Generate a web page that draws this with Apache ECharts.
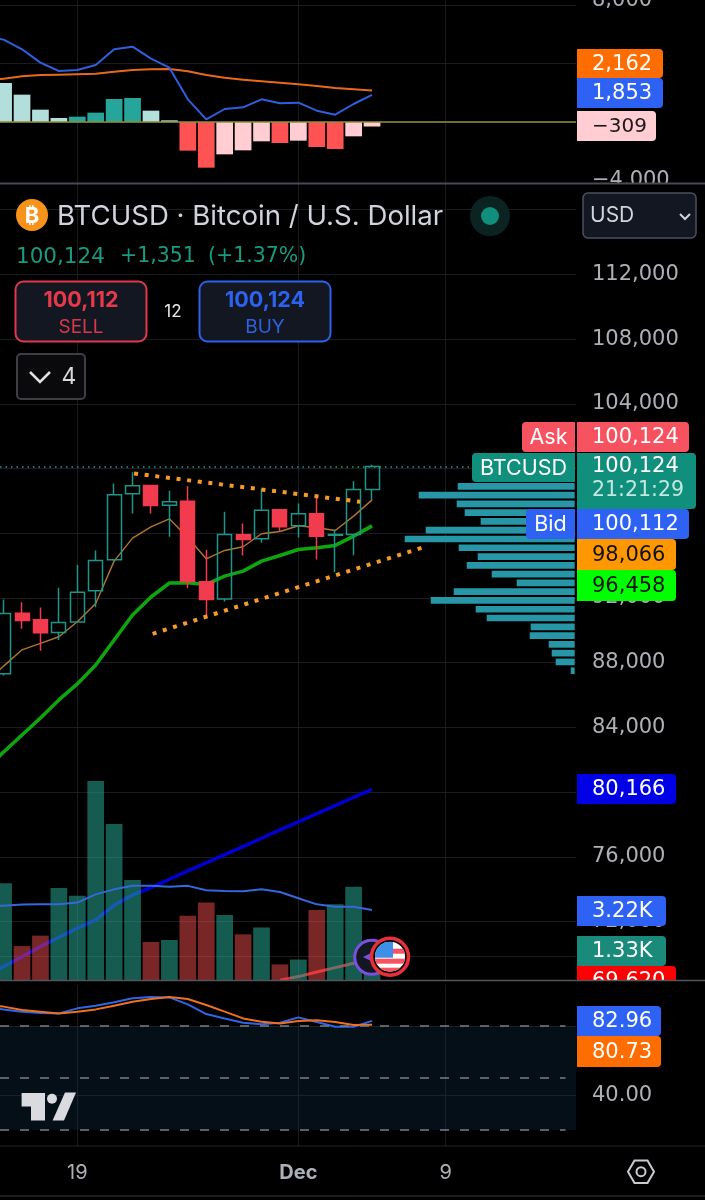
<!DOCTYPE html>
<html>
<head>
<meta charset="utf-8">
<title>BTCUSD</title>
<script src="https://cdn.jsdelivr.net/npm/echarts@6/dist/echarts.min.js"></script>
<style>
  html, body { margin: 0; padding: 0; background: #000; }
  #main { width: 705px; height: 1200px; }
</style>
</head>
<body>
<div id="main"></div>
<script>
// day index on the x axis: 0 is the last day off screen on the left
var tickDays = [5, 17, 25];
var tickLabels = ['19', 'Dec', '9'];

// open, close, low, high - from day 1
var candles = [
  [87316, 91045, 87213, 91910], [91065, 90612, 90097, 91745], [90653, 89850, 88738, 91416],
  [89871, 90489, 89397, 92631], [90509, 92363, 90468, 94032], [92446, 94320, 91436, 94938],
  [94361, 98378, 94279, 99079], [98440, 98935, 97225, 99779], [98955, 97719, 97225, 98955],
  [97740, 97946, 95783, 98626], [97987, 93022, 92610, 98914], [93002, 91910, 90818, 94979],
  [91931, 95927, 91786, 97328], [95906, 95618, 94629, 96607], [95659, 97431, 95412, 98749],
  [97451, 96401, 96133, 97451], [96463, 97204, 95742, 97843], [97204, 95824, 94382, 98296],
  [95886, 95927, 93599, 96236], [95927, 98708, 94650, 99223], [98708, 100124, 98049, 100232]
];
var lastPrice = 100124;

// moving averages, from day 0
var emaFast = [86700, 87790, 88799, 89191, 89603, 90530, 91663, 94279, 95700, 96401, 96895, 95721,
  94423, 94938, 95165, 95968, 96112, 96463, 96339, 96174, 97060, 98066];
var emaMid = [81372, 82484, 83535, 84586, 85698, 86687, 87861, 89406, 90951, 92063, 92928, 92940,
  92837, 93352, 93661, 94279, 94629, 95000, 95103, 95247, 95824, 96458];
var emaSlow = [68600, 69218, 69836, 70454, 71031, 71587, 72102, 73008, 73647, 74100, 74615, 75130,
  75625, 76140, 76634, 77149, 77664, 78158, 78673, 79168, 79683, 80166];
// from day 16
var emaLong = [68380, 68600, 68888, 69156, 69424, 69620];

var trendTopX = [8.08, 20.35];
var trendTop = [99697, 97946];
var trendLowX = [9.09, 23.82];
var trendLow = [89788, 95153];

// volume in K, from day 1
var volumes = [4.45, 1.56, 2.04, 4.23, 3.88, 9.15, 7.18, 4.6, 1.75, 1.84, 2.96, 3.56, 2.99, 2.1, 2.42,
  0.72, 0.94, 3.22, 3.48, 4.29, 1.33];
// from day 0
var volumeMa = [3.4, 3.42, 3.47, 3.48, 3.48, 3.56, 3.94, 4.17, 4.34, 4.33, 4.29, 4.33, 4.13, 4.09, 4.08,
  4.17, 4.05, 3.76, 3.48, 3.37, 3.37, 3.22];

// macd, from day 0
var macdLine = [5860, 5632, 4970, 4058, 3488, 3557, 3899, 4970, 5153, 4332, 3716, 1550, 182, 889, 1003,
  1550, 1277, 1322, 775, 502, 1231, 1853];
var signalLine = [2804, 2964, 3124, 3215, 3238, 3260, 3306, 3443, 3557, 3602, 3625, 3466, 3215, 3032,
  2896, 2782, 2690, 2576, 2462, 2326, 2234, 2162];
// from day 1
var macdHist = [2668, 1870, 844, 274, 365, 638, 1573, 1642, 775, 114, -1961, -3124, -2212, -1938, -1322,
  -1436, -1277, -1710, -1847, -980, -309];

// rsi, from day 0
var rsiLine = [90.5, 89.6, 88.3, 87.5, 87.3, 90.2, 91.7, 93.7, 96.0, 96.7, 96.5, 92.5, 86.9, 84.4, 81.9,
  81.0, 81.9, 85.0, 82.3, 79.6, 79.6, 82.96];
var rsiMa = [92.0, 91.2, 89.2, 88.3, 87.3, 88.3, 89.6, 91.7, 94.0, 95.6, 96.7, 95.6, 92.1, 88.3, 84.4,
  82.5, 81.5, 82.9, 83.3, 82.3, 80.6, 80.73];
var rsiLevels = [80, 50, 20];

// volume profile, one row per price bucket
var profileRows = [98900, 98360, 97820, 97280, 96730, 96190, 95650, 95110, 94560, 94020, 93480, 92940,
  92390, 91850, 91310, 90770, 90230, 89680, 89140, 88600, 88060, 87510];
var profileVolumes = [117, 156, 118, 110, 94, 149, 170, 116, 97, 108, 83, 58, 121, 144, 99, 88, 44, 45,
  26, 23, 19, 4];

var FONT = 'Inter, Roboto, sans-serif';
var FONT_NUM = '"DejaVu Sans", Inter, sans-serif';
var GREY = '#adb0b6';
var GRID_LINE = '#1b1c20';
var xMin = 0.8046, xMax = 32.07;

var myChart = echarts.init(document.getElementById('main'));

function pairs(values, firstDay) {
  return values.map(function (v, i) { return [i + firstDay, v]; });
}

function xAxisHidden(gridIndex) {
  return { type: 'value', gridIndex: gridIndex, min: xMin, max: xMax, show: false };
}

function yAxisHidden(gridIndex, min, max) {
  return { type: 'value', gridIndex: gridIndex, min: min, max: max, show: false };
}

function yAxisPane(gridIndex, min, max, interval, formatter, labelExtra) {
  return {
    type: 'value', gridIndex: gridIndex, position: 'right', min: min, max: max, interval: interval,
    axisLine: { show: false }, axisTick: { show: false },
    axisLabel: Object.assign({
      color: GREY, fontFamily: FONT_NUM, fontSize: 21, margin: 16, formatter: formatter,
      verticalAlignMinLabel: 'middle', verticalAlignMaxLabel: 'middle'
    }, labelExtra || {}),
    splitLine: { show: true, showMinLine: false, lineStyle: { color: GRID_LINE, width: 1 } }
  };
}

function lineSeries(name, xIdx, yIdx, data, color, width, z) {
  return {
    name: name, type: 'line', xAxisIndex: xIdx, yAxisIndex: yIdx, data: data, z: z,
    showSymbol: false, symbol: 'none', silent: true, animation: false,
    lineStyle: { color: color, width: width, join: 'round' }
  };
}

function money(v) {
  return (v < 0 ? '\u2212' : '') + Math.abs(v).toLocaleString('en-US');
}

// ---- everything that sits on top of the panes
var Z = 50;
var overlay = [];

function rect(x, y, w, h, fill, r, stroke, lw) {
  overlay.push({ type: 'rect', z: Z, silent: true, shape: { x: x, y: y, width: w, height: h, r: r || 0 },
    style: { fill: fill, stroke: stroke || null, lineWidth: lw || 0 } });
}
function text(str, x, y, size, color, align, weight, family) {
  overlay.push({ type: 'text', z: Z, silent: true, x: x, y: y,
    style: { text: str, fill: color, font: (weight || 'normal') + ' ' + size + 'px ' + (family || FONT),
      textAlign: align || 'left', verticalAlign: 'middle' } });
}
function hline(y, color, w) {
  overlay.push({ type: 'line', z: Z, silent: true, shape: { x1: 0, y1: y, x2: 705, y2: y },
    style: { stroke: color, lineWidth: w } });
}
function circle(cx, cy, r, fill, stroke, lw) {
  overlay.push({ type: 'circle', z: Z, silent: true, shape: { cx: cx, cy: cy, r: r },
    style: { fill: fill, stroke: stroke || null, lineWidth: lw || 0 } });
}
function poly(points, fill, stroke, lw, open) {
  overlay.push({ type: open ? 'polyline' : 'polygon', z: Z, silent: true, shape: { points: points },
    style: { fill: fill, stroke: stroke || null, lineWidth: lw || 0 } });
}
function badgeRight(y, h, w, fill, str, color) {
  rect(577, y, w, h, fill, [0, 4, 4, 0]);
  text(str, 592, y + h / 2 + 1, 21, color, 'left', 'normal', FONT_NUM);
}
function badgeLeft(x, y, h, fill, str) {
  rect(x, y, 575 - x, h, fill, [4, 0, 0, 4]);
  text(str, (x + 575) / 2, y + h / 2 + 1, 21.5, '#fff', 'center');
}

// top of the macd scale, cut by the edge of the picture
text('8,000', 592, 1, 21, GREY, 'left', 'normal', FONT_NUM);

// pane separators and the cut of the macd scale
rect(577, 184, 128, 8, '#000');
hline(183.5, '#4a4a52', 2);

// legend
circle(32, 215, 16, '#f7931a');
text('\u20bf', 32, 216, 22, '#fff', 'center', 'bold');
text('BTCUSD \u00b7 Bitcoin / U.S. Dollar', 57, 217, 27.6, '#d1d4dc');
circle(490, 216, 20, '#0b2422');
circle(490, 216, 9, '#0f8f7c');
text('100,124', 16, 257, 21.5, '#1b9a7f', 'left', 'normal', FONT_NUM);
text('+1,351', 120, 257, 20.5, '#1b9a7f', 'left', 'normal', FONT_NUM);
text('(+1.37%)', 208, 257, 20.5, '#1b9a7f', 'left', 'normal', FONT_NUM);

// sell / buy
rect(15.5, 281.5, 131, 60, '#131722', 8, '#e0394a', 2);
text('100,112', 81, 301, 21.5, '#e8394a', 'center', 'bold');
text('SELL', 81, 327, 19, '#d8394a', 'center');
text('12', 173, 312, 17, '#e8e8e8', 'center');
rect(199.5, 281.5, 131, 60, '#131722', 8, '#2d62e8', 2);
text('100,124', 265, 301, 21.5, '#2d62f0', 'center', 'bold');
text('BUY', 265, 327, 19, '#2d62e0', 'center');

// collapsed indicators
rect(17, 354, 68, 45, '#0a0a0c', 4, '#3e3f44', 2);
poly([[30, 372], [40, 382], [50, 372]], null, '#e0e0e0', 2.5, true);
text('4', 69, 377, 23, '#d8d8d8', 'center');

// currency button
rect(583, 193, 113, 45, '#131722', 5, '#4a5060', 1.5);
text('USD', 590, 216, 21, '#d1d4dc');
poly([[680, 214], [685, 219], [690, 214]], null, '#d1d4dc', 2, true);

// macd tags
badgeRight(49, 29, 86, '#ff6d00', '2,162', '#fff');
badgeRight(78, 30, 86, '#2d62f5', '1,853', '#fff');
rect(577, 111, 79, 30, '#ffcdd2', [0, 4, 4, 0]);
text('\u2212309', 592, 127, 20, '#1a1a1a', 'left', 'normal', FONT_NUM);

// price tags
badgeLeft(522, 422, 30, '#f7525f', 'Ask');
badgeRight(422, 30, 112, '#f7525f', '100,124', '#fff');
badgeLeft(472, 453, 29, '#0f8f7c', 'BTCUSD');
rect(577, 453, 119, 56, '#0f8f7c', [0, 4, 4, 0]);
text('100,124', 592, 467, 21, '#fff', 'left', 'normal', FONT_NUM);
text('21:21:29', 592, 491, 20.5, '#c4e8e0', 'left', 'normal', FONT_NUM);
badgeLeft(526, 509, 30, '#2d62f5', 'Bid');
badgeRight(509, 30, 112, '#2d62f5', '100,112', '#fff');
badgeRight(539, 31, 99, '#ff9800', '98,066', '#111');
badgeRight(570, 31, 99, '#00ff00', '96,458', '#111');
badgeRight(774, 30, 99, '#0000e6', '80,166', '#fff');
badgeRight(896, 30, 89, '#2d62f5', '3.22K', '#fff');
badgeRight(936, 30, 89, '#1a8a7a', '1.33K', '#fff');
badgeRight(966, 30, 99, '#ff0000', '69,620', '#fff');

// below the price pane
rect(0, 981, 705, 4, '#000');
rect(577, 981, 128, 24, '#000');
hline(980.5, '#55565c', 1.5);
badgeRight(1006, 30, 84, '#2d62f5', '82.96', '#fff');
badgeRight(1036, 31, 84, '#ff6d00', '80.73', '#fff');
hline(1146, '#26272b', 1);
hline(1196, '#3a3b40', 1);

// events on the volume pane
circle(371.7, 957.3, 17, '#131722', '#7b4fe0', 3);
poly([[363, 957], [371, 953], [371, 961]], '#7b4fe0');
circle(390, 956.7, 18.5, '#0a0a0a', '#e8303a', 3.5);
var flag = '<svg xmlns="http://www.w3.org/2000/svg" width="30" height="30" viewBox="0 0 30 30">' +
  '<clipPath id="c"><circle cx="15" cy="15" r="15"/></clipPath><g clip-path="url(#c)">' +
  '<rect width="30" height="30" fill="#fff"/>' +
  '<rect y="7" x="15" width="15" height="5" fill="#f7525f"/>' +
  '<rect y="17" width="30" height="5" fill="#f7525f"/><rect y="26" width="30" height="5" fill="#f7525f"/>' +
  '<rect width="18" height="16" fill="#3d8fe8"/></g></svg>';
overlay.push({ type: 'image', z: Z, silent: true,
  style: { image: 'data:image/svg+xml,' + encodeURIComponent(flag), x: 375, y: 941.7, width: 30, height: 30 } });

// tradingview mark
poly([[21.6, 1093], [45, 1093], [45, 1120.5], [31, 1120.5], [31, 1106.5], [21.6, 1106.5]], '#d9dbe0');
circle(52, 1098.7, 5, '#d9dbe0');
poly([[65, 1092.5], [76, 1092.5], [64, 1120.5], [52.6, 1120.5]], '#d9dbe0');

// settings
poly([[628, 1171.7], [634.5, 1160.5], [647.5, 1160.5], [654, 1171.7], [647.5, 1183], [634.5, 1183]], null, '#c8ccd2', 2);
circle(641, 1171.7, 4.5, null, '#c8ccd2', 2);

var option = {
  backgroundColor: '#000',
  animation: false,
  textStyle: { fontFamily: FONT },
  grid: [
    { left: 0, width: 576, top: 0, height: 1146 },       // time axis, vertical lines
    { left: 0, width: 576, top: 5, height: 175.5 },      // macd
    { left: 0, width: 576, top: 209.7, height: 776.6 },  // price
    { left: 0, width: 576, top: 780, height: 200 },      // volume
    { left: 0, width: 576, top: 956.7, height: 208 },    // rsi
    { left: 374.7, width: 200, top: 481.9, height: 193.2 } // volume profile
  ],
  xAxis: [
    {
      type: 'value', gridIndex: 0, min: xMin, max: xMax, position: 'bottom',
      axisLine: { show: false },
      axisTick: { show: false, customValues: tickDays },
      splitLine: { show: true, lineStyle: { color: GRID_LINE, width: 1 } },
      axisLabel: {
        customValues: tickDays, color: GREY, fontFamily: FONT, fontSize: 20, margin: 17,
        formatter: function (v) {
          var s = tickLabels[tickDays.indexOf(v)];
          return s === 'Dec' ? '{b|' + s + '}' : s;
        },
        rich: { b: { fontWeight: 'bold', fontFamily: FONT, fontSize: 20, color: GREY } }
      }
    },
    xAxisHidden(1), xAxisHidden(2), xAxisHidden(3), xAxisHidden(4),
    { type: 'value', gridIndex: 5, inverse: true, min: 0, max: 200, show: false }
  ],
  yAxis: [
    yAxisHidden(0, 0, 1),
    yAxisPane(1, -4000, 8000, 4000, function (v) { return v === 8000 ? '' : money(v); }, { padding: [0, 0, 5, 0] }),
    yAxisPane(2, 68000, 116000, 4000, function (v) { return v === 68000 ? '' : money(v); }, { padding: [2, 0, 0, 0] }),
    yAxisHidden(3, 0, 9.2),
    yAxisPane(4, 0, 120, 40, function (v) { return v === 0 || v === 120 ? '' : v.toFixed(2); }, { padding: [3, 0, 0, 0] }),
    { type: 'category', gridIndex: 5, inverse: true, data: profileRows, show: false }
  ],
  series: [
    // macd
    {
      name: 'Histogram', type: 'bar', xAxisIndex: 1, yAxisIndex: 1, barWidth: 16.7, z: 2, silent: true,
      data: pairs(macdHist, 1),
      itemStyle: {
        color: function (p) {
          var v = p.value[1], prev = p.dataIndex > 0 ? macdHist[p.dataIndex - 1] : Infinity;
          if (v >= 0) return v > prev ? '#26a69a' : '#b2dfdb';
          return v < prev ? '#ff5252' : '#ffcdd2';
        }
      },
      markLine: {
        silent: true, symbol: 'none', label: { show: false },
        lineStyle: { color: '#8f8f3a', type: 'solid', width: 1.5 },
        data: [{ yAxis: 0 }]
      }
    },
    lineSeries('Signal', 1, 1, pairs(signalLine, 0), '#e8691c', 2, 3),
    lineSeries('MACD', 1, 1, pairs(macdLine, 0), '#2f5fdc', 2, 4),

    // price
    lineSeries('EMA 200', 2, 2, pairs(emaLong, 16), '#e0272f', 3, 1),
    lineSeries('EMA 100', 2, 2, pairs(emaSlow, 0), '#0000d2', 3.5, 1),
    lineSeries('EMA 21', 2, 2, pairs(emaMid, 0), '#0ea50e', 3.6, 4),
    lineSeries('EMA 9', 2, 2, pairs(emaFast, 0), '#b5752f', 1.4, 4),
    {
      name: 'BTCUSD', type: 'candlestick', xAxisIndex: 2, yAxisIndex: 2, barWidth: 14.5, z: 5, silent: true,
      encode: { x: 0, y: [1, 2, 3, 4] },
      data: candles.map(function (c, i) { return [i + 1, c[0], c[1], c[2], c[3]]; }),
      itemStyle: {
        color: 'rgba(0,0,0,0)', borderColor: '#1f9488', color0: '#f23b4e', borderColor0: '#f23b4e', borderWidth: 1.5
      },
      markLine: {
        silent: true, symbol: 'none', label: { show: false },
        lineStyle: { color: '#1f9e8a', type: [1.5, 4], width: 1.5 },
        data: [{ yAxis: lastPrice }]
      }
    },
    Object.assign(lineSeries('Trend top', 2, 2, trendTop.map(function (v, i) { return [trendTopX[i], v]; }), '#f79a25', 4, 6),
      { lineStyle: { color: '#f79a25', width: 4, type: [4, 6.7] } }),
    Object.assign(lineSeries('Trend low', 2, 2, trendLow.map(function (v, i) { return [trendLowX[i], v]; }), '#f79a25', 4, 6),
      { lineStyle: { color: '#f79a25', width: 4, type: [4, 6.7] } }),

    // volume
    {
      name: 'Volume', type: 'bar', xAxisIndex: 3, yAxisIndex: 3, barWidth: 16.7, z: 2, silent: true,
      data: pairs(volumes, 1),
      itemStyle: {
        color: function (p) {
          var c = candles[p.dataIndex];
          return c[1] >= c[0] ? 'rgba(38,166,145,0.55)' : 'rgba(242,75,75,0.5)';
        }
      }
    },
    lineSeries('Volume MA', 3, 3, pairs(volumeMa, 0), '#3468dc', 2, 3),

    // rsi
    {
      name: 'RSI', type: 'line', xAxisIndex: 4, yAxisIndex: 4, data: pairs(rsiLine, 0), z: 3,
      showSymbol: false, symbol: 'none', silent: true,
      lineStyle: { color: '#2f66e8', width: 2 },
      markArea: {
        silent: true,
        itemStyle: { color: 'rgba(16,50,80,0.3)' },
        data: [[{ xAxis: xMin, yAxis: rsiLevels[0] }, { xAxis: xMax, yAxis: rsiLevels[2] }]]
      },
      markLine: {
        silent: true, symbol: 'none', label: { show: false },
        lineStyle: { color: '#7a7f85', type: [9, 11], width: 1.5 },
        data: rsiLevels.map(function (l) { return [{ coord: [xMin, l] }, { coord: [31.5, l] }]; })
      }
    },
    lineSeries('RSI MA', 4, 4, pairs(rsiMa, 0), '#f07020', 2, 4),

    // volume profile
    {
      name: 'Profile', type: 'bar', xAxisIndex: 5, yAxisIndex: 5, barWidth: 6.7, z: 3, silent: true,
      data: profileVolumes, itemStyle: { color: '#2796a6' }
    }
  ],
  graphic: { elements: overlay }
};

myChart.setOption(option);
</script>
</body>
</html>
